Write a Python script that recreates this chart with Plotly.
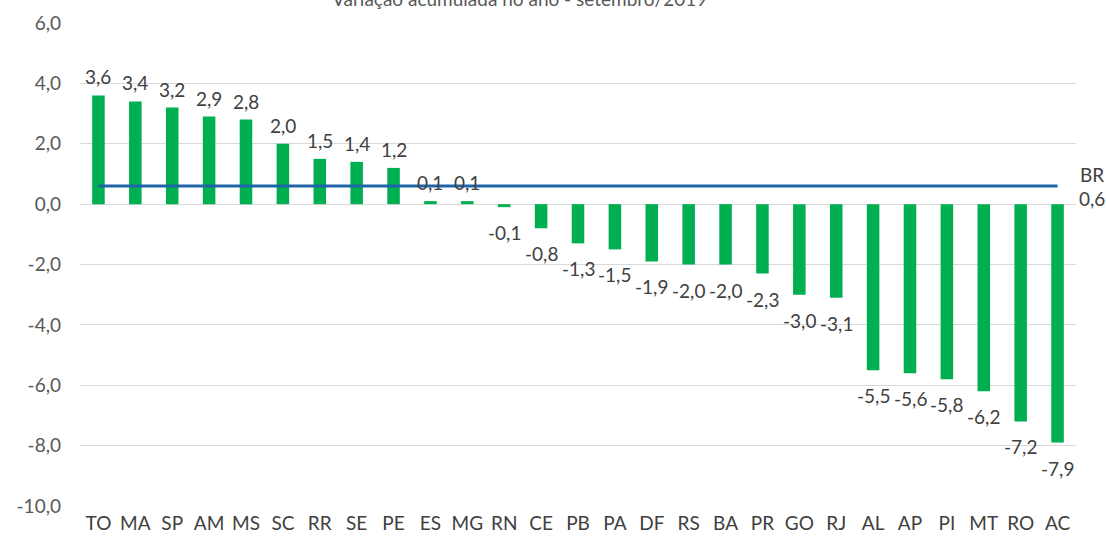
import plotly.graph_objects as go

estados = ["TO", "MA", "SP", "AM", "MS", "SC", "RR", "SE", "PE", "ES", "MG", "RN", "CE", "PB",
           "PA", "DF", "RS", "BA", "PR", "GO", "RJ", "AL", "AP", "PI", "MT", "RO", "AC"]
variacao = [3.6, 3.4, 3.2, 2.9, 2.8, 2.0, 1.5, 1.4, 1.2, 0.1, 0.1, -0.1, -0.8, -1.3,
            -1.5, -1.9, -2.0, -2.0, -2.3, -3.0, -3.1, -5.5, -5.6, -5.8, -6.2, -7.2, -7.9]
br_valor = 0.6
br_rotulo = "BR"
titulo = "Variação acumulada no ano - setembro/2019"
y_ticks = [6, 4, 2, 0, -2, -4, -6, -8, -10]

def fmt(v):
    return f"{v:.1f}".replace(".", ",")

FONT = "Lato, 'Open Sans', sans-serif"
FS = 19

fig = go.Figure()
fig.add_trace(go.Bar(
    x=estados, y=variacao, marker=dict(color="#00B050", line=dict(width=0)),
    width=0.34, hoverinfo="skip", showlegend=False,
))
fig.add_trace(go.Scatter(
    x=estados, y=[br_valor] * len(estados), mode="lines",
    line=dict(color="#1F64A6", width=3), showlegend=False, hoverinfo="skip",
))

annotations = []
for cat, v in zip(estados, variacao):
    if v >= 0:
        annotations.append(dict(x=cat, y=v, text=fmt(v), showarrow=False, xref="x", yref="y",
                                yanchor="bottom", yshift=5,
                                font=dict(size=FS, color="#404040", family=FONT)))
    else:
        annotations.append(dict(x=cat, y=v, text=fmt(v), showarrow=False, xref="x", yref="y",
                                yanchor="top", yshift=-12,
                                font=dict(size=FS, color="#404040", family=FONT)))

annotations.append(dict(x=estados[-1], y=br_valor, text=br_rotulo, showarrow=False,
                        xref="x", yref="y", xshift=34, yshift=12,
                        font=dict(size=FS, color="#404040", family=FONT)))
annotations.append(dict(x=estados[-1], y=br_valor, text=fmt(br_valor), showarrow=False,
                        xref="x", yref="y", xshift=34, yshift=-12,
                        font=dict(size=FS, color="#404040", family=FONT)))
annotations.append(dict(x=(519 - 80) / 996, xref="paper", y=1 + 24 / 483, yref="paper",
                        text=titulo, showarrow=False, yanchor="middle", xanchor="center",
                        font=dict(size=19, color="#595959", family=FONT)))

fig.update_layout(
    width=1106, height=538,
    margin=dict(l=80, r=30, t=23, b=32, autoexpand=False),
    paper_bgcolor="white", plot_bgcolor="white",
    font=dict(family=FONT, size=FS, color="#595959"),
    annotations=annotations,
    bargap=0.66,
)
fig.update_xaxes(showgrid=False, showline=False, ticks="", automargin=False,
                 range=[-0.5, len(estados) - 0.5], ticklabelstandoff=4,
                 tickfont=dict(size=FS, color="#404040"), fixedrange=True)
fig.update_yaxes(range=[-10, 6], tickvals=y_ticks, ticktext=[fmt(t) for t in y_ticks],
                 showgrid=True, gridcolor="#D9D9D9", gridwidth=1, zeroline=True,
                 zerolinecolor="#D9D9D9", zerolinewidth=1, showline=False, ticks="",
                 automargin=False, ticklabelstandoff=18, fixedrange=True,
                 tickfont=dict(size=FS, color="#595959"))

fig.write_html(
    "out.html",
    config={"displayModeBar": False, "staticPlot": True},
    post_script="document.body.style.margin='0';document.body.style.overflow='hidden';",
)
